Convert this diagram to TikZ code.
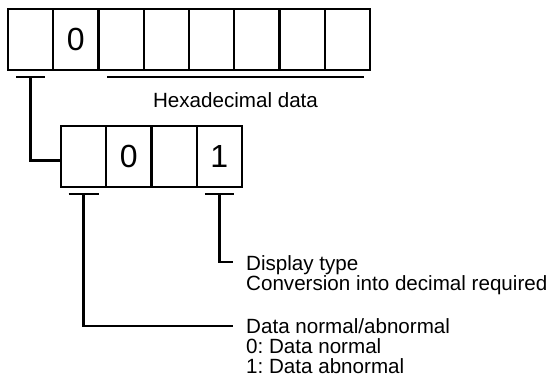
\documentclass[tikz,border=0pt]{standalone}
\usepackage{fontspec}
\setmainfont{Liberation Sans}
\usetikzlibrary{positioning, calc}
\frenchspacing

\begin{document}
\begin{tikzpicture}[
    x=1bp, y=-1bp,
    cell/.style={
        rectangle,
        draw=black,
        line width=2.4bp,
        minimum width=45.25bp,
        minimum height=61bp,
        inner sep=0pt,
        outer sep=0pt,
        font=\fontsize{32bp}{32bp}\selectfont
    },
    bar/.style={
        line width=2.4bp,
        black
    },
    lbl/.style={
        anchor=base west,
        inner sep=0pt,
        font=\fontsize{20.6bp}{20bp}\selectfont
    }
]
\useasboundingbox (0,0) rectangle (559,387);

% ============================================
% Upper word: 8 digits
% ============================================
\foreach \i/\t in {1/,2/0,3/,4/,5/,6/,7/,8/} {
    \node[cell] (w\i) at ({8+45.25*(\i-0.5)},39.5) {\t};
}

% ============================================
% Lower field: 4 digits
% ============================================
\foreach \i/\t in {1/,2/0,3/,4/1} {
    \node[cell] (n\i) at ({61+45.25*(\i-0.5)},156.5) {\t};
}

% Brackets under the upper word
\coordinate (m1) at ($(w1.south)+(0,7)$);
\draw[bar] ($(m1)+(-14.5,0)$) -- ($(m1)+(14.5,0)$);
\draw[bar] (m1) |- ([yshift=-4bp]n1.west);

\coordinate (hl) at ($(w3.south west)+(8.5,7)$);
\coordinate (hr) at ($(w8.south east)+(-6,7)$);
\draw[bar] (hl) -- (hr);
\node[lbl, anchor=base] (hex) at ($($(hl)!0.5!(hr)$)+(0,30)$) {Hexadecimal data};

% Brackets under the lower field
\coordinate (m2) at ($(n1.south)+(0,7)$);
\coordinate (m3) at ($(n4.south)+(0,7)$);
\draw[bar] ($(m2)+(-15,0)$) -- ($(m2)+(15,0)$);
\draw[bar] ($(m3)+(-14.5,0)$) -- ($(m3)+(14.5,0)$);

\coordinate (t1) at (233,262);
\coordinate (t2) at (233,326);
\draw[bar] (m3) |- (t1);
\draw[bar] (m2) |- (t2);

% Labels
\node[lbl] (disp) at ($(t1)+(13,8)$) {Display type};
\node[lbl] (conv) at ($(disp.base west)+(0,20)$) {Conversion into decimal required};

\node[lbl] (dna) at ($(t2)+(13,7)$) {Data normal/abnormal};
\node[lbl] (dn0) at ($(dna.base west)+(0,20)$) {0: Data normal};
\node[lbl] (dn1) at ($(dn0.base west)+(0,20)$) {1: Data abnormal};

\end{tikzpicture}
\end{document}
